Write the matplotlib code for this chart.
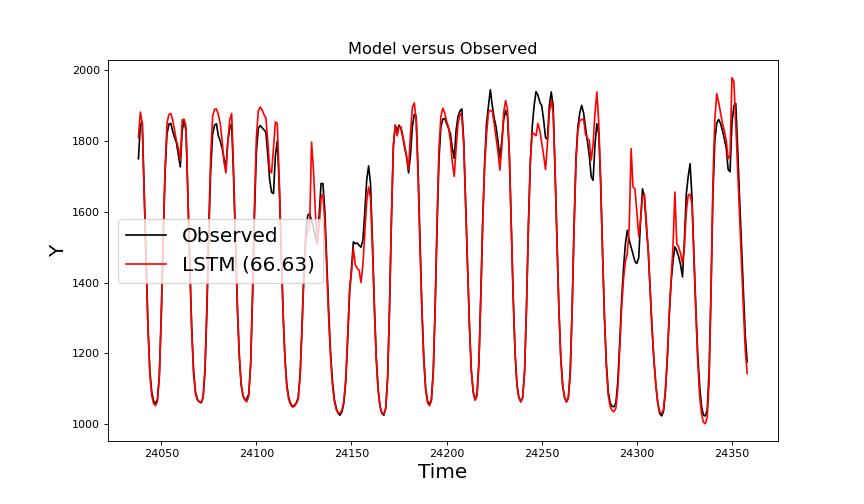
import numpy as np
import matplotlib
matplotlib.use("Agg")
import matplotlib.pyplot as plt

# hourly series, first hour = 24038
start_time = 24038

observed = [
    1750, 1845, 1854, 1660, 1460, 1280, 1150, 1090, 1065, 1058,
    1070, 1140, 1310, 1520, 1710, 1820, 1848, 1850, 1828, 1810,
    1795, 1760, 1727, 1830, 1858, 1830, 1640, 1440, 1270, 1150,
    1090, 1070, 1063, 1060, 1075, 1150, 1320, 1540, 1720, 1820,
    1845, 1849, 1815, 1800, 1780, 1750, 1725, 1800, 1835, 1849,
    1700, 1520, 1330, 1190, 1110, 1080, 1068, 1072, 1085, 1170,
    1360, 1590, 1770, 1835, 1844, 1838, 1832, 1825, 1760, 1690,
    1655, 1652, 1760, 1800, 1680, 1500, 1320, 1190, 1110, 1075,
    1058, 1050, 1052, 1060, 1075, 1140, 1280, 1430, 1540, 1590,
    1595, 1575, 1555, 1530, 1510, 1590, 1680, 1680, 1600, 1460,
    1320, 1200, 1120, 1070, 1045, 1030, 1025, 1035, 1060, 1120,
    1240, 1370, 1440, 1515, 1510, 1512, 1505, 1500, 1520, 1600,
    1690, 1730, 1680, 1520, 1340, 1190, 1100, 1050, 1030, 1025,
    1045, 1130, 1330, 1580, 1780, 1845, 1830, 1845, 1835, 1810,
    1780, 1755, 1710, 1760, 1840, 1875, 1870, 1720, 1520, 1330,
    1190, 1100, 1065, 1055, 1070, 1150, 1330, 1560, 1750, 1840,
    1862, 1864, 1850, 1836, 1820, 1780, 1751, 1830, 1870, 1885,
    1891, 1800, 1620, 1450, 1280, 1150, 1090, 1068, 1085, 1180,
    1370, 1580, 1740, 1850, 1900, 1945, 1900, 1865, 1840, 1800,
    1751, 1800, 1860, 1887, 1870, 1760, 1560, 1360, 1200, 1110,
    1075, 1063, 1075, 1150, 1330, 1560, 1740, 1840, 1900, 1940,
    1930, 1910, 1900, 1860, 1810, 1805, 1900, 1939, 1900, 1720,
    1520, 1330, 1190, 1110, 1075, 1063, 1075, 1150, 1330, 1560,
    1750, 1840, 1880, 1901, 1880, 1840, 1800, 1760, 1700, 1689,
    1790, 1849, 1820, 1680, 1480, 1300, 1170, 1090, 1060, 1050,
    1049, 1060, 1120, 1230, 1350, 1440, 1510, 1548, 1520, 1500,
    1480, 1460, 1454, 1470, 1580, 1665, 1640, 1560, 1490, 1380,
    1270, 1180, 1110, 1060, 1030, 1023, 1035, 1090, 1180, 1300,
    1400, 1460, 1501, 1490, 1473, 1450, 1416, 1520, 1650, 1700,
    1736, 1640, 1480, 1330, 1200, 1110, 1050, 1025, 1023, 1040,
    1150, 1380, 1650, 1800, 1850, 1861, 1850, 1830, 1807, 1780,
    1720, 1713, 1850, 1900, 1906, 1780, 1640, 1510, 1380, 1250,
    1176,
]

lstm = [
    1810, 1882, 1850, 1650, 1460, 1275, 1140, 1080, 1058, 1052,
    1065, 1135, 1300, 1520, 1720, 1850, 1875, 1878, 1860, 1830,
    1800, 1780, 1745, 1860, 1862, 1840, 1650, 1440, 1265, 1140,
    1085, 1068, 1062, 1062, 1075, 1160, 1340, 1570, 1760, 1870,
    1890, 1891, 1875, 1850, 1800, 1740, 1710, 1800, 1860, 1878,
    1720, 1530, 1340, 1200, 1115, 1080, 1068, 1063, 1080, 1170,
    1380, 1620, 1810, 1885, 1896, 1888, 1875, 1865, 1800, 1720,
    1710, 1780, 1854, 1850, 1690, 1500, 1320, 1185, 1105, 1070,
    1055, 1048, 1050, 1058, 1070, 1135, 1270, 1420, 1530, 1545,
    1560, 1797, 1720, 1600, 1510, 1560, 1640, 1650, 1570, 1440,
    1300, 1190, 1110, 1065, 1040, 1032, 1030, 1040, 1065, 1130,
    1250, 1380, 1430, 1496, 1450, 1440, 1435, 1400, 1450, 1540,
    1630, 1670, 1640, 1500, 1330, 1185, 1095, 1050, 1032, 1028,
    1045, 1130, 1330, 1580, 1790, 1845, 1815, 1840, 1840, 1815,
    1785, 1755, 1720, 1820, 1895, 1908, 1860, 1700, 1500, 1320,
    1180, 1095, 1060, 1052, 1065, 1145, 1340, 1580, 1780, 1870,
    1893, 1880, 1855, 1840, 1800, 1740, 1700, 1780, 1850, 1878,
    1870, 1790, 1620, 1450, 1280, 1150, 1090, 1068, 1080, 1170,
    1360, 1570, 1730, 1820, 1880, 1887, 1885, 1850, 1810, 1770,
    1718, 1780, 1880, 1915, 1890, 1760, 1560, 1360, 1200, 1110,
    1075, 1063, 1075, 1150, 1330, 1560, 1740, 1825, 1820, 1815,
    1850, 1830, 1795, 1760, 1720, 1790, 1880, 1915, 1880, 1720,
    1520, 1330, 1190, 1110, 1075, 1062, 1072, 1140, 1320, 1550,
    1740, 1830, 1859, 1860, 1864, 1820, 1807, 1803, 1746, 1790,
    1880, 1939, 1850, 1680, 1480, 1300, 1160, 1080, 1050, 1038,
    1035, 1045, 1100, 1210, 1330, 1410, 1460, 1482, 1560, 1779,
    1670, 1665, 1600, 1530, 1580, 1645, 1650, 1570, 1490, 1380,
    1270, 1180, 1110, 1060, 1035, 1030, 1040, 1095, 1190, 1310,
    1410, 1500, 1656, 1510, 1500, 1482, 1454, 1500, 1600, 1647,
    1650, 1620, 1470, 1320, 1180, 1080, 1030, 1005, 1001, 1020,
    1120, 1370, 1680, 1860, 1934, 1910, 1880, 1850, 1830, 1800,
    1750, 1760, 1979, 1969, 1850, 1720, 1590, 1460, 1330, 1210,
    1143,
]

lstm_score = 66.63

time = np.arange(start_time, start_time + len(observed))

fig, ax = plt.subplots(figsize=(10.8, 6.3), dpi=80)
fig.subplots_adjust(left=0.125, right=0.9, top=0.88, bottom=0.125)

ax.plot(time, observed, color='black', label='Observed')
ax.plot(time, lstm, color='red', label=f'LSTM ({lstm_score:.2f})')

ax.set_title('Model versus Observed', fontsize=14.5)
ax.set_xlabel('Time', fontsize=18)
ax.set_ylabel('Y', fontsize=18)
ax.legend(loc='center left', fontsize=18)

fig.savefig('out.png', dpi=80)
